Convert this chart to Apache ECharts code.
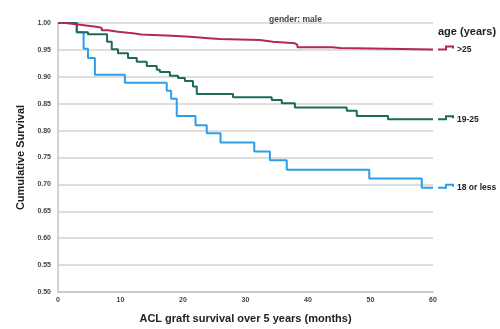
<!DOCTYPE html>
<html>
<head>
<meta charset="utf-8">
<script src="https://cdn.jsdelivr.net/npm/echarts@6/dist/echarts.min.js"></script>
<style>
  html, body { margin: 0; padding: 0; background: #fff; }
  #chart { width: 500px; height: 329px; }
</style>
</head>
<body>
<div id="chart"></div>
<script>
// Kaplan-Meier steps: [month, survival after event]
const groupNames = ['>25', '19-25', '18 or less'];
const groupColors = ['#b3275c', '#1c6a5c', '#2f9de9'];

const over25 = [
  [0, 1], [1.2, 0.9985], [2.2, 0.9967], [3.5, 0.9949], [4.8, 0.9927], [6.4, 0.9909],
  [7.0, 0.9867], [8.0, 0.9836], [9.6, 0.9817], [11.2, 0.9806], [12.3, 0.9788],
  [13.3, 0.9762], [18.2, 0.9744], [21.1, 0.9714], [24.6, 0.9701], [25.9, 0.9683],
  [32.3, 0.9652], [34.4, 0.9623], [37.9, 0.9592], [38.3, 0.955], [43.9, 0.9537],
  [45.2, 0.9507], [60, 0.9507]
];
const age19to25 = [
  [0, 1], [3.0, 0.983], [4.8, 0.979], [7.85, 0.965], [8.6, 0.951], [9.6, 0.944],
  [11.2, 0.935], [12.6, 0.928], [14.2, 0.920], [15.8, 0.913], [16.3, 0.909],
  [17.9, 0.902], [19.2, 0.898], [20.3, 0.892], [21.6, 0.882], [22.2, 0.868],
  [28.0, 0.862], [34.2, 0.857], [35.8, 0.851], [37.9, 0.843], [46.2, 0.837],
  [47.8, 0.827], [52.8, 0.821], [60, 0.821]
];
const age18orLess = [
  [0, 1], [3.0, 0.983], [4.1, 0.952], [4.8, 0.935], [5.9, 0.904], [10.7, 0.889],
  [17.4, 0.874], [18.1, 0.859], [19.0, 0.827], [22.0, 0.810], [23.8, 0.795],
  [26.0, 0.778], [31.4, 0.761], [33.9, 0.745], [36.6, 0.727], [49.8, 0.711],
  [58.2, 0.694], [60, 0.694]
];
const groupData = [over25, age19to25, age18orLess];

const xTicks = [0, 10, 20, 30, 40, 50, 60];
const yMin = 0.5, yMax = 1.0, yStep = 0.05;

const font = 'Arial, "Liberation Sans", sans-serif';
const chart = echarts.init(document.getElementById('chart'));

const option = {
  animation: false,
  backgroundColor: '#fff',
  textStyle: { fontFamily: font },
  title: {
    text: 'gender: male',
    left: 264, top: 10,
    textStyle: { fontSize: 8.5, fontWeight: 'bold', color: '#444', fontFamily: font }
  },
  grid: { left: 58, right: 67, top: 23, bottom: 33 },
  xAxis: {
    type: 'value',
    min: 0, max: 60, interval: 10,
    name: 'ACL graft survival over 5 years (months)',
    nameLocation: 'middle', nameGap: 21,
    nameTextStyle: { fontSize: 11, fontWeight: 'bold', color: '#222', fontFamily: font },
    axisLine: { lineStyle: { color: '#c4c4c4', width: 1.5 } },
    axisTick: { show: false },
    axisLabel: { fontSize: 7, fontWeight: 'bold', color: '#444', margin: 5,
      formatter: v => xTicks.includes(v) ? String(v) : '' },
    splitLine: { show: false }
  },
  yAxis: {
    type: 'value',
    min: yMin, max: yMax, interval: yStep,
    name: 'Cumulative Survival',
    nameLocation: 'middle', nameGap: 26,
    nameTextStyle: { fontSize: 11, fontWeight: 'bold', color: '#222', fontFamily: font },
    axisLine: { show: true, lineStyle: { color: '#c4c4c4', width: 1.5 } },
    axisTick: { show: false },
    axisLabel: { fontSize: 7, fontWeight: 'bold', color: '#444', margin: 7,
      formatter: v => v.toFixed(2) },
    splitLine: { show: true, lineStyle: { color: '#d3d3d3', width: 1.5 } }
  },
  series: groupNames.map((name, i) => ({
    name: name,
    type: 'line',
    step: 'end',
    data: groupData[i],
    symbol: 'none',
    z: 10 - i,
    lineStyle: { color: groupColors[i], width: 2 },
    endLabel: {
      show: true,
      formatter: name,
      distance: 24,
      fontSize: 8.5, fontWeight: 'bold', color: '#222', fontFamily: font
    }
  })),
  graphic: [{
    type: 'text', left: 438, top: 26,
    style: { text: 'age (years)', fontSize: 11, fontWeight: 'bold', fill: '#222', font: 'bold 11px ' + font }
  }]
};
chart.setOption(option);

// legend step glyphs placed at the end of each curve
const glyphs = groupData.map((d, i) => {
  const last = d[d.length - 1];
  const p = chart.convertToPixel({ gridIndex: 0 }, last);
  const x0 = p[0] + 5, y0 = p[1];
  return {
    type: 'polyline',
    shape: { points: [[x0, y0], [x0 + 8, y0], [x0 + 8, y0 - 3], [x0 + 15, y0 - 3], [x0 + 15, y0 - 1]] },
    style: { stroke: groupColors[i], lineWidth: 2, fill: null }
  };
});
chart.setOption({ graphic: option.graphic.concat(glyphs) });
</script>
</body>
</html>
